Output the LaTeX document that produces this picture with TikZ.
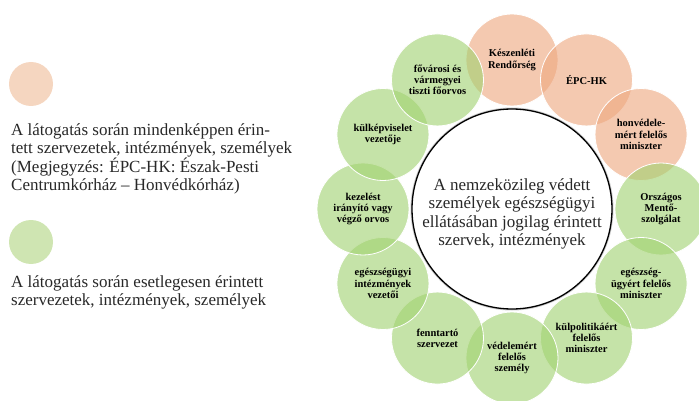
\documentclass[tikz,border=0pt]{standalone}
\usepackage{fontspec}
\setmainfont{Liberation Serif}
\definecolor{peach}{RGB}{238,168,128}
\definecolor{grn}{RGB}{162,210,114}
\definecolor{legpeach}{RGB}{245,214,192}
\definecolor{leggrn}{RGB}{207,229,178}
\definecolor{txt}{RGB}{40,40,40}
\begin{document}
\begin{tikzpicture}[x=1pt,y=-1pt,
  ringbox/.style={circle, minimum size=92pt, inner sep=0pt, draw=white,
    line width=0.8pt, fill opacity=0.62, text opacity=1, align=center,
    font=\fontsize{10.5}{11.2}\selectfont\bfseries, text=black},
  legdot/.style={circle, minimum size=44pt, inner sep=0pt},
  legtext/.style={anchor=north west, inner sep=0pt, align=left, text=txt,
    font=\fontsize{17}{18.4}\selectfont}]
\path[use as bounding box] (0,0) rectangle (699,401);
\foreach \a/\n/\c/\t in {
  90/kr/peach/{Készenléti\\Rendőrség},
  60/epc/peach/{ÉPC-HK},
  30/hon/peach/{honvédele-\\mért felelős\\miniszter},
  0/om/grn/{Országos\\Mentő-\\szolgálat},
  -30/eum/grn/{egészség-\\ügyért felelős\\miniszter},
  -60/kpm/grn/{külpolitikáért\\felelős\\miniszter},
  -90/vfs/grn/{védelemért\\felelős\\személy},
  -120/fsz/grn/{fenntartó\\szervezet},
  -150/eiv/grn/{egészségügyi\\intézmények\\vezetői},
  180/kio/grn/{kezelést\\irányító vagy\\végző orvos},
  150/kv/grn/{külképviselet\\vezetője},
  120/tf/grn/{fővárosi és\\vármegyei\\tiszti főorvos}}
{
  \node[ringbox, fill=\c] (c\n) at ({512+149*cos(\a)},{209-149*sin(\a)}) {\t};
}
\node[circle, minimum size=200pt, inner sep=0pt, draw=gray!40, line width=3pt] (ctrhalo) at (512,209) {};
\node[circle, minimum size=200pt, inner sep=0pt, fill=white, draw=black, line width=1.3pt] (ctr) at (512,209) {};
\node[align=center, inner sep=0pt, text=txt, font=\fontsize{17}{18.5}\selectfont] (ctrtext) at (512,214)
  {A nemzeközileg védett\\személyek egészségügyi\\ellátásában jogilag érintett\\szervek, intézmények};
\node[legdot, fill=legpeach] (leg1) at (31,84) {};
\node[legtext] (legt1) at (11,123.5)
  {A látogatás során mindenképpen érin-\\tett szervezetek, intézmények, személyek\\(Megjegyzés: ÉPC-HK: Észak-Pesti\\Centrumkórház – Honvédkórház)};
\node[legdot, fill=leggrn] (leg2) at (31,242) {};
\node[legtext] (legt2) at (11,275)
  {A látogatás során esetlegesen érintett\\szervezetek, intézmények, személyek};
\end{tikzpicture}
\end{document}
